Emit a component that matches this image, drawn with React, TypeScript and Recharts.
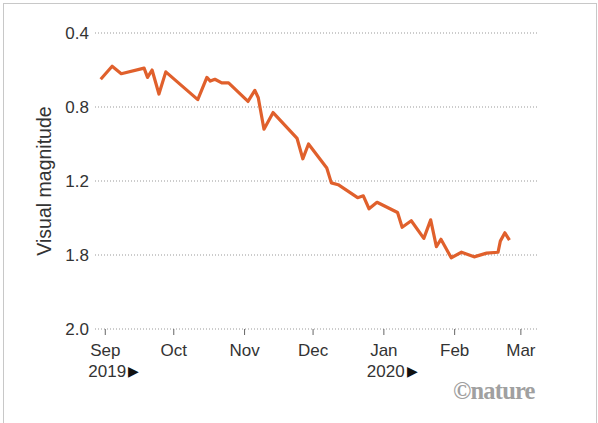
import { LineChart, Line, XAxis, YAxis, CartesianGrid } from "recharts";

// days counted from 1 Sep 2019
const days = [
  -2, 3, 7, 17, 18.5, 20.5, 23.5, 26.5, 40.5, 44.5, 46, 48, 51, 54, 62.5, 65.5,
  67, 69.5, 73.5, 84, 86.5, 89, 97, 99, 102, 110.5, 113, 115.5, 119, 128, 130,
  134, 139.5, 142.5, 145, 147, 151.5, 156, 161.5, 167, 172, 173, 175, 177,
];
const magnitudes = [
  0.65, 0.58, 0.62, 0.59, 0.64, 0.6, 0.73, 0.61, 0.76, 0.64, 0.66, 0.65, 0.67,
  0.67, 0.77, 0.71, 0.75, 0.92, 0.83, 0.97, 1.08, 1.0, 1.13, 1.21, 1.22, 1.29,
  1.28, 1.35, 1.315, 1.37, 1.45, 1.415, 1.51, 1.41, 1.555, 1.515, 1.615, 1.585,
  1.61, 1.59, 1.585, 1.525, 1.48, 1.52,
];

const monthTicks = [0, 30, 61, 91, 122, 153, 182];
const monthLabels = ["Sep", "Oct", "Nov", "Dec", "Jan", "Feb", "Mar"];
const yearLabels = ["2019", "", "", "", "2020", "", ""];

const yTicks = [0.4, 0.8, 1.2, 1.6, 2.0];
const yTickLabels = ["0.4", "0.8", "1.2", "1.8", "2.0"];

const data = days.map((d, i) => ({ day: d, mag: magnitudes[i] }));

const FONT = "'Liberation Sans', Arial, sans-serif";

const MonthTick = (props: any) => {
  const { x, y, payload } = props;
  const i = monthTicks.indexOf(payload.value);
  return (
    <g>
      <text
        x={x}
        y={y + 19}
        textAnchor="middle"
        fontSize={17}
        fill="#333"
        fontFamily={FONT}
      >
        {monthLabels[i]}
      </text>
      {yearLabels[i] && (
        <text
          x={x - 17}
          y={y + 40}
          textAnchor="start"
          fontSize={17}
          fill="#333"
          fontFamily={FONT}
        >
          {yearLabels[i]}
          <tspan fontSize={14} dx={2} dy={-1} fill="#111">
            {"\u25B6"}
          </tspan>
        </text>
      )}
    </g>
  );
};

const App = () => {
  return (
    <div
      style={{
        position: "absolute",
        top: 0,
        left: 0,
        width: 598,
        height: 423,
        overflow: "hidden",
        background: "#fff",
        fontFamily: FONT,
      }}
    >
      {/* frame */}
      <div
        style={{
          position: "absolute",
          left: 3,
          top: 3,
          width: 592,
          height: 440,
          border: "1px solid #c8c8c8",
        }}
      />

      <LineChart
        width={598}
        height={423}
        data={data}
        margin={{ top: 33, right: 60, left: 35, bottom: 64 }}
      >
        <CartesianGrid
          horizontal
          vertical={false}
          stroke="#999"
          strokeDasharray="1 2"
        />
        <XAxis
          dataKey="day"
          type="number"
          domain={[-4.5, 189.5]}
          ticks={monthTicks}
          axisLine={false}
          tickLine={{ stroke: "#666" }}
          tickSize={6}
          height={30}
          tick={<MonthTick />}
          interval={0}
        />
        <YAxis
          type="number"
          domain={[0.4, 2.0]}
          ticks={yTicks}
          reversed
          width={60}
          axisLine={false}
          tickLine={false}
          tickSize={4}
          tickFormatter={(v: number) => yTickLabels[yTicks.indexOf(v)]}
          tick={{ fill: "#333", fontSize: 17, fontFamily: FONT }}
        />
        <Line
          type="linear"
          dataKey="mag"
          stroke="#E0602C"
          strokeWidth={3.2}
          strokeLinejoin="round"
          dot={false}
          isAnimationActive={false}
        />
      </LineChart>

      {/* y axis title */}
      <div
        style={{
          position: "absolute",
          left: 44,
          top: 181,
          transform: "translate(-50%, -50%) rotate(-90deg)",
          whiteSpace: "nowrap",
          fontSize: 19.5,
          color: "#333",
        }}
      >
        Visual magnitude
      </div>

      {/* credit */}
      <div
        style={{
          position: "absolute",
          left: 453,
          top: 377,
          fontFamily: "'Liberation Serif', 'DejaVu Serif', serif",
          fontWeight: "bold",
          fontSize: 24.5,
          letterSpacing: -0.8,
          color: "#a0a0a0",
        }}
      >
        ©nature
      </div>
    </div>
  );
};

export default App;
